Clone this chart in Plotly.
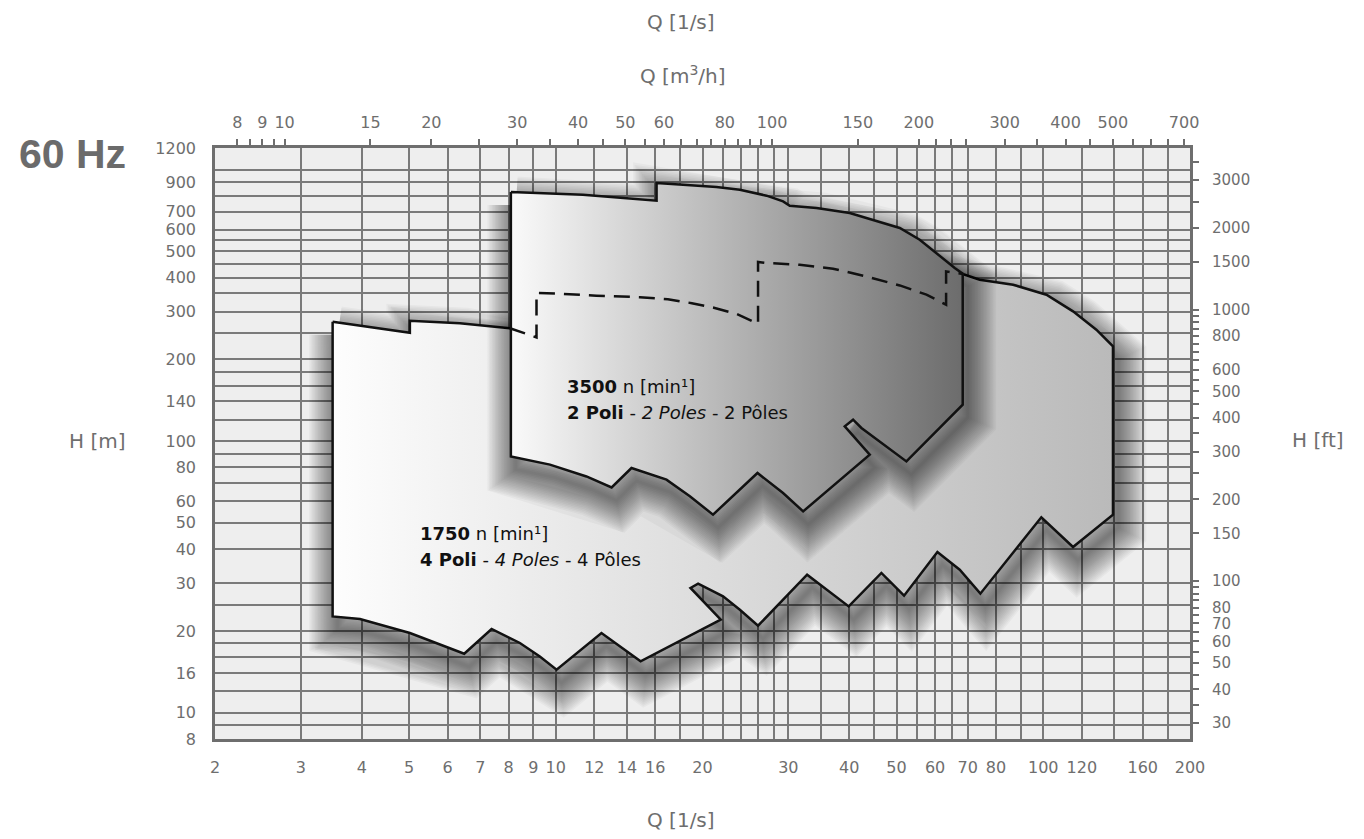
import numpy as np
import plotly.graph_objects as go

# ---------------- data (Q in l/s, H in m) ----------------
# 3500 rpm (2 poles) envelope, top edge left->right
q_3500_top = [8.09, 11.37, 16.1, 16.1, 18.25, 21.36, 23.86, 27.06, 29.26, 30.2, 34.27, 40.09,
              46.93, 50.78, 55.8, 61.33, 65.83, 68.36]
h_3500_top = [826.5, 807.8, 767.6, 892.1, 879.4, 862.3, 842.9, 801.0, 763.1, 735.8, 721.6, 691.6,
              635.4, 609.0, 551.6, 478.8, 433.8, 413.3]
# 3500 rpm envelope, right/bottom edge right->left
q_3500_bot = [68.36, 52.4, 46.19, 42.37, 40.73, 39.16, 44.06, 32.17, 29.26, 25.93, 21.02, 18.84,
              16.87, 14.3, 13.02, 11.56, 9.73, 8.09]
h_3500_bot = [136.2, 84.2, 99.8, 111.8, 119.9, 113.3, 89.1, 55.1, 64.4, 76.3, 53.6, 62.6,
              72.1, 79.6, 67.5, 74.1, 81.9, 87.8]

# 1750 rpm (4 poles) envelope, top edge left->right (middle part hidden -> dashed)
q_1750_top = [3.486, 4.157, 5.021, 5.021, 6.359, 8.052, 9.131, 9.131, 10.19, 12.12, 14.87, 16.98,
              19.02, 21.10, 23.51, 26.0, 26.0, 27.06, 31.66, 37.06, 43.38, 50.78, 57.6, 63.2,
              63.2, 68.36, 74.06, 86.7, 101.5, 115.1, 128.5, 139.0]
h_1750_top = [275.2, 262.7, 250.7, 277.4, 271.6, 260.4, 240.9, 351.0, 348.9, 343.0, 338.7, 333.0,
              321.9, 309.8, 293.7, 270.5, 456.4, 452.6, 446.0, 431.3, 403.9, 374.2, 346.0, 317.9,
              421.6, 412.3, 392.9, 376.6, 346.0, 300.3, 257.2, 223.2]
# 1750 rpm envelope, right/bottom edge right->left
q_1750_bot = [139.0, 115.1, 99.1, 74.3, 67.4, 60.66, 51.82, 46.56, 39.9, 32.78, 26.0, 23.86,
              22.04, 19.59, 18.9, 21.8, 14.93, 12.41, 10.04, 9.276, 8.442, 7.386, 6.49, 5.021,
              3.967, 3.486]
h_1750_bot = [53.6, 40.75, 52.4, 27.43, 33.6, 39.06, 26.96, 32.69, 24.62, 32.22, 20.91, 23.94,
              26.81, 29.84, 28.79, 22.0, 15.45, 19.65, 14.4, 16.11, 18.06, 20.33, 16.49, 19.65,
              22.13, 22.62]

# ---------------- axes ----------------
q_range = [2, 200]          # l/s
h_range = [8, 1200]         # m
M3H_PER_LS = 3.6
FT_PER_M = 3.28084

x_grid = [2, 3, 4, 5, 6, 7, 8, 9, 10, 12, 14, 16, 18, 20, 22, 24, 26, 28, 30, 35, 40, 45, 50, 55,
          60, 65, 70, 80, 90, 100, 120, 140, 160, 180, 200]
x_labels = [2, 3, 4, 5, 6, 7, 8, 9, 10, 12, 14, 16, 20, 30, 40, 50, 60, 70, 80, 100, 120, 160, 200]

y_grid = [8, 9, 10, 12, 14, 16, 18, 20, 25, 30, 40, 50, 60, 70, 80, 90, 100, 120, 140, 160, 180,
          200, 250, 300, 350, 400, 450, 500, 550, 600, 700, 800, 900, 1000, 1200]
y_label_pos = [8, 10, 14, 20, 30, 40, 50, 60, 80, 100, 140, 200, 300, 400, 500, 600, 700, 900, 1200]
y_label_txt = ["8", "10", "16", "20", "30", "40", "50", "60", "80", "100", "140", "200", "300",
               "400", "500", "600", "700", "900", "1200"]

top_ticks = [8, 8.5, 9, 9.5, 10, 15, 20, 25, 30, 35, 40, 45, 50, 55, 60, 65, 70, 75, 80, 85, 90,
             95, 100, 150, 200, 216.7, 233.3, 250, 300, 350, 400, 450, 500, 550, 600, 650, 700]
top_labels = [8, 9, 10, 15, 20, 30, 40, 50, 60, 80, 100, 150, 200, 300, 400, 500, 700]

right_ticks = [30, 35, 40, 45, 50, 55, 60, 65, 70, 75, 80, 85, 90, 95, 100, 150, 200, 250, 300,
               350, 400, 450, 500, 550, 600, 650, 700, 750, 800, 850, 900, 950, 1000, 1500,
               2000, 2500, 3000, 3500]
right_labels = [30, 40, 50, 60, 70, 80, 100, 150, 200, 300, 400, 500, 600, 800, 1000, 1500,
                2000, 3000]

# ---------------- geometry helpers ----------------
L, R, T, B = 215, 174, 148, 100
W, H = 1364, 839
plot_w = W - L - R
plot_h = H - T - B
px_per_dec_x = plot_w / np.log10(q_range[1] / q_range[0])
px_per_dec_y = plot_h / np.log10(h_range[1] / h_range[0])


def closed(qa, ha):
    return list(qa) + [qa[0]], list(ha) + [ha[0]]


def shifted(qa, ha, dx, dy):
    fx = 10 ** (dx / px_per_dec_x)
    fy = 10 ** (-dy / px_per_dec_y)
    return [v * fx for v in qa], [v * fy for v in ha]


q1750, h1750 = closed(q_1750_top + q_1750_bot, h_1750_top + h_1750_bot)
q3500, h3500 = closed(q_3500_top + q_3500_bot, h_3500_top + h_3500_bot)

fig = go.Figure()


def add_shadow(qa, ha):
    sq, sh = shifted(qa, ha, 5, 13)
    for w in range(3, 58, 3):
        fig.add_trace(go.Scatter(x=sq, y=sh, mode="lines",
                                 line=dict(color="rgba(0,0,0,0.032)", width=w),
                                 hoverinfo="skip", showlegend=False))


# 1750 shadow + shape
add_shadow(q1750, h1750)
fig.add_trace(go.Scatter(x=q1750, y=h1750, mode="lines", fill="toself",
                         fillgradient=dict(type="horizontal",
                                           colorscale=[[0, "#fdfdfd"], [1, "#bababa"]]),
                         line=dict(color="#111111", width=2.5),
                         hoverinfo="skip", showlegend=False))

# 3500 shadow + shape
add_shadow(q3500, h3500)
fig.add_trace(go.Scatter(x=q3500, y=h3500, mode="lines", fill="toself",
                         fillgradient=dict(type="horizontal",
                                           colorscale=[[0, "#fafafa"], [1, "#6c6c6c"]]),
                         line=dict(color="#111111", width=2.5),
                         hoverinfo="skip", showlegend=False))

# hidden part of 1750 top edge (dashed, drawn over the 3500 area)
hid = [i for i, q in enumerate(q_1750_top) if 8.0 <= q <= q_3500_top[-1]]
fig.add_trace(go.Scatter(x=[q_1750_top[i] for i in hid], y=[h_1750_top[i] for i in hid],
                         mode="lines", line=dict(color="#111111", width=2.5, dash="16px,9px"),
                         hoverinfo="skip", showlegend=False))

# invisible trace for secondary axes
fig.add_trace(go.Scatter(x=[10 * M3H_PER_LS], y=[100 * FT_PER_M], xaxis="x2", yaxis="y2",
                         mode="markers", marker=dict(opacity=0), hoverinfo="skip",
                         showlegend=False))

tick_font = dict(family="DejaVu Sans", size=16, color="#6e6e6e")
grid_col = "#7a7a7a"
frame_col = "#6e6e6e"


def fmt(v):
    return str(int(v)) if float(v).is_integer() else str(v)


fig.update_layout(
    width=W, height=H,
    margin=dict(l=L, r=R, t=T, b=B),
    paper_bgcolor="white", plot_bgcolor="#eeeeee",
    showlegend=False,
    xaxis=dict(type="log", range=[np.log10(q_range[0]), np.log10(q_range[1])],
               tickmode="array", tickvals=x_grid,
               ticktext=[fmt(v) if v in x_labels else "" for v in x_grid],
               showgrid=True, gridcolor=grid_col, gridwidth=1.6,
               showline=True, linecolor=frame_col, linewidth=2.5, mirror=True,
               ticks="", ticklabelstandoff=12, tickfont=tick_font, zeroline=False),
    yaxis=dict(type="log", range=[np.log10(h_range[0]), np.log10(h_range[1])],
               tickmode="array", tickvals=y_grid,
               ticktext=[y_label_txt[y_label_pos.index(v)] if v in y_label_pos else ""
                         for v in y_grid],
               showgrid=True, gridcolor=grid_col, gridwidth=1.6,
               showline=True, linecolor=frame_col, linewidth=2.5, mirror=True,
               ticks="", ticklabelstandoff=13, tickfont=tick_font, zeroline=False),
    xaxis2=dict(type="log", overlaying="x", side="top", anchor="y",
                range=[np.log10(q_range[0] * M3H_PER_LS), np.log10(q_range[1] * M3H_PER_LS)],
                tickmode="array", tickvals=top_ticks,
                ticktext=[fmt(v) if v in top_labels else "" for v in top_ticks],
                ticks="outside", ticklen=8, tickwidth=1.5, tickcolor=frame_col,
                showgrid=False, showline=False, ticklabelstandoff=5, tickfont=tick_font,
                zeroline=False),
    yaxis2=dict(type="log", overlaying="y", side="right", anchor="x",
                range=[np.log10(h_range[0] * FT_PER_M), np.log10(h_range[1] * FT_PER_M)],
                tickmode="array", tickvals=right_ticks,
                ticktext=[fmt(v) if v in right_labels else "" for v in right_ticks],
                ticks="outside", ticklen=8, tickwidth=1.5, tickcolor=frame_col,
                showgrid=False, showline=False, ticklabelstandoff=10,
                tickfont=dict(family="DejaVu Sans", size=15, color="#6e6e6e"),
                zeroline=False),
)


def px2paper(px, py):
    return (px - L) / plot_w, (H - B - py) / plot_h


title_font = dict(family="DejaVu Sans", size=20, color="#6e6e6e")
anns = []


def add_text(txt, px, py, font, xanchor="center"):
    xp, yp = px2paper(px, py)
    anns.append(dict(text=txt, x=xp, y=yp, xref="paper", yref="paper", showarrow=False,
                     xanchor=xanchor, yanchor="middle", font=font))


add_text("60 Hz", 17, 154, dict(family="Liberation Sans", size=41, color="#6b6b6b", weight="bold"),
         xanchor="left")
add_text("Q [1/s]", 681, 22, title_font)
add_text("Q [m<sup>3</sup>/h]", 683, 75, title_font)
add_text("H [m]", 97, 441, title_font)
add_text("H [ft]", 1318, 440, title_font)
add_text("Q [1/s]", 681, 820, title_font)

lbl_font = dict(family="DejaVu Sans", size=18, color="#111111")
add_text("<b>3500</b> n [min¹]", 565, 386, lbl_font, xanchor="left")
add_text("<b>2 Poli</b> - <i>2 Poles</i> - 2 Pôles", 565, 412, lbl_font, xanchor="left")
add_text("<b>1750</b> n [min¹]", 418, 533, lbl_font, xanchor="left")
add_text("<b>4 Poli</b> - <i>4 Poles</i> - 4 Pôles", 418, 559, lbl_font, xanchor="left")

fig.update_layout(annotations=anns)

fig.write_html("out.html", config={"displayModeBar": False},
               post_script="document.body.style.margin='0px';document.body.style.overflow='hidden';")
